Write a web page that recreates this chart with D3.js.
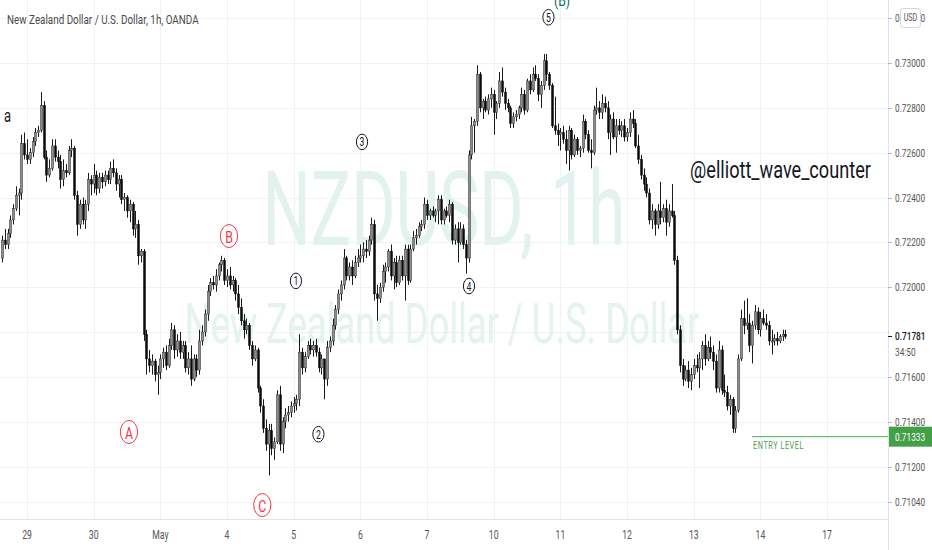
<!DOCTYPE html>
<html><head><meta charset="utf-8">
<script src="https://cdn.jsdelivr.net/npm/d3@7"></script>
<style>html,body{margin:0;padding:0;background:#fff;}svg{display:block;}</style>
</head><body>
<svg id="c" width="932" height="550"></svg>
<script>
// ---------- DATA (hourly candles, NZDUSD, OANDA) ----------
const opens = [
0.7213,0.7221,0.7219,0.7224,0.7230,0.7235,0.7241,0.7242,0.7264,0.7259,
0.7257,0.7260,0.7265,0.7269,0.7270,0.7281,0.7258,0.7250,0.7253,0.7263,
0.7258,0.7256,0.7248,0.7252,0.7251,0.7261,0.7262,0.7241,0.7228,0.7237,
0.7230,0.7237,0.7248,0.7246,0.7250,0.7244,0.7249,0.7247,0.7250,0.7248,
0.7253,0.7251,0.7246,0.7248,0.7239,0.7240,0.7234,0.7237,0.7226,0.7228,
0.7214,0.7216,0.7179,0.7168,0.7165,0.7167,0.7161,0.7162,0.7168,0.7171,
0.7165,0.7174,0.7181,0.7172,0.7176,0.7171,0.7174,0.7164,0.7168,0.7159,
0.7168,0.7163,0.7176,0.7180,0.7188,0.7198,0.7202,0.7201,0.7205,0.7210,
0.7212,0.7203,0.7205,0.7201,0.7203,0.7197,0.7191,0.7185,0.7181,0.7183,
0.7174,0.7168,0.7172,0.7155,0.7147,0.7137,0.7130,0.7136,0.7128,0.7131,
0.7152,0.7130,0.7140,0.7143,0.7144,0.7147,0.7148,0.7150,0.7171,0.7164,
0.7169,0.7174,0.7172,0.7174,0.7171,0.7164,0.7168,0.7159,0.7173,0.7176,
0.7183,0.7190,0.7197,0.7201,0.7213,0.7205,0.7209,0.7205,0.7211,0.7213,
0.7214,0.7217,0.7216,0.7221,0.7228,0.7197,0.7195,0.7200,0.7207,0.7209,
0.7216,0.7205,0.7211,0.7202,0.7212,0.7205,0.7217,0.7203,0.7217,0.7222,
0.7223,0.7227,0.7228,0.7237,0.7232,0.7234,0.7232,0.7234,0.7239,0.7230,
0.7234,0.7232,0.7237,0.7221,0.7226,0.7220,0.7226,0.7219,0.7213,0.7259,
0.7272,0.7274,0.7295,0.7280,0.7283,0.7279,0.7284,0.7286,0.7278,0.7282,
0.7292,0.7287,0.7282,0.7280,0.7273,0.7276,0.7277,0.7280,0.7286,0.7279,
0.7292,0.7288,0.7295,0.7293,0.7286,0.7290,0.7301,0.7295,0.7290,0.7272,
0.7270,0.7268,0.7269,0.7266,0.7261,0.7270,0.7259,0.7266,0.7261,0.7262,
0.7274,0.7268,0.7261,0.7260,0.7279,0.7280,0.7278,0.7282,0.7280,0.7269,
0.7275,0.7267,0.7272,0.7270,0.7272,0.7267,0.7269,0.7275,0.7273,0.7263,
0.7257,0.7250,0.7246,0.7242,0.7230,0.7234,0.7228,0.7234,0.7231,0.7235,
0.7229,0.7234,0.7232,0.7212,0.7181,0.7165,0.7159,0.7163,0.7158,0.7161,
0.7165,0.7164,0.7168,0.7174,0.7168,0.7173,0.7171,0.7167,0.7155,0.7172,
0.7154,0.7153,0.7147,0.7150,0.7137,0.7145,0.7168,0.7186,0.7183,0.7184,
0.7174,0.7183,0.7189,0.7181,0.7186,0.7184,0.7183,0.7176,0.7176,0.7177,
0.7176,0.7178,0.7179];
const highs = [
0.7223,0.7226,0.7226,0.7232,0.7237,0.7245,0.7244,0.7268,0.7269,0.7266,
0.7262,0.7267,0.7271,0.7272,0.7287,0.7283,0.7261,0.7257,0.7266,0.7266,
0.7261,0.7259,0.7257,0.7255,0.7263,0.7266,0.7263,0.7243,0.7239,0.7240,
0.7239,0.7251,0.7250,0.7255,0.7252,0.7251,0.7251,0.7252,0.7252,0.7256,
0.7257,0.7253,0.7250,0.7250,0.7242,0.7241,0.7239,0.7238,0.7234,0.7230,
0.7217,0.7217,0.7181,0.7172,0.7170,0.7168,0.7165,0.7170,0.7173,0.7174,
0.7177,0.7184,0.7183,0.7179,0.7180,0.7176,0.7176,0.7171,0.7174,0.7170,
0.7170,0.7181,0.7183,0.7190,0.7201,0.7204,0.7205,0.7208,0.7211,0.7214,
0.7213,0.7208,0.7209,0.7205,0.7204,0.7201,0.7195,0.7188,0.7186,0.7184,
0.7176,0.7174,0.7173,0.7156,0.7150,0.7141,0.7139,0.7139,0.7133,0.7154,
0.7156,0.7142,0.7146,0.7147,0.7149,0.7151,0.7152,0.7179,0.7173,0.7171,
0.7176,0.7177,0.7176,0.7177,0.7173,0.7170,0.7168,0.7176,0.7178,0.7186,
0.7192,0.7199,0.7203,0.7217,0.7214,0.7211,0.7212,0.7214,0.7217,0.7219,
0.7220,0.7221,0.7223,0.7231,0.7230,0.7201,0.7202,0.7210,0.7211,0.7217,
0.7219,0.7213,0.7214,0.7214,0.7214,0.7219,0.7219,0.7219,0.7225,0.7226,
0.7229,0.7230,0.7240,0.7239,0.7235,0.7236,0.7235,0.7241,0.7241,0.7235,
0.7236,0.7239,0.7238,0.7228,0.7229,0.7229,0.7228,0.7221,0.7261,0.7276,
0.7275,0.7299,0.7296,0.7284,0.7285,0.7286,0.7289,0.7288,0.7283,0.7296,
0.7298,0.7289,0.7284,0.7281,0.7278,0.7279,0.7281,0.7289,0.7288,0.7293,
0.7295,0.7298,0.7299,0.7295,0.7292,0.7304,0.7304,0.7296,0.7291,0.7285,
0.7273,0.7271,0.7272,0.7270,0.7272,0.7271,0.7268,0.7267,0.7263,0.7277,
0.7275,0.7270,0.7266,0.7281,0.7289,0.7283,0.7286,0.7285,0.7283,0.7277,
0.7278,0.7275,0.7275,0.7274,0.7275,0.7271,0.7278,0.7279,0.7275,0.7268,
0.7259,0.7253,0.7249,0.7244,0.7237,0.7235,0.7237,0.7247,0.7237,0.7239,
0.7237,0.7246,0.7234,0.7214,0.7183,0.7168,0.7165,0.7167,0.7164,0.7168,
0.7170,0.7171,0.7176,0.7179,0.7176,0.7178,0.7174,0.7170,0.7176,0.7174,
0.7161,0.7156,0.7152,0.7151,0.7147,0.7170,0.7190,0.7194,0.7195,0.7188,
0.7185,0.7192,0.7191,0.7189,0.7190,0.7188,0.7185,0.7181,0.7179,0.7180,
0.7179,0.7181,0.7181];
const lows = [
0.7211,0.7217,0.7217,0.7222,0.7228,0.7234,0.7232,0.7239,0.7257,0.7255,
0.7255,0.7258,0.7263,0.7267,0.7269,0.7257,0.7247,0.7249,0.7252,0.7256,
0.7253,0.7244,0.7245,0.7249,0.7250,0.7258,0.7239,0.7223,0.7226,0.7228,
0.7226,0.7234,0.7241,0.7242,0.7241,0.7242,0.7244,0.7245,0.7246,0.7246,
0.7249,0.7243,0.7240,0.7237,0.7234,0.7231,0.7229,0.7223,0.7222,0.7210,
0.7211,0.7176,0.7161,0.7162,0.7161,0.7158,0.7152,0.7159,0.7164,0.7163,
0.7164,0.7172,0.7168,0.7169,0.7168,0.7168,0.7162,0.7161,0.7156,0.7158,
0.7160,0.7161,0.7174,0.7178,0.7185,0.7196,0.7199,0.7198,0.7203,0.7207,
0.7201,0.7200,0.7199,0.7198,0.7194,0.7188,0.7183,0.7177,0.7179,0.7172,
0.7165,0.7167,0.7153,0.7144,0.7135,0.7127,0.7116,0.7125,0.7123,0.7130,
0.7127,0.7126,0.7137,0.7140,0.7142,0.7144,0.7145,0.7147,0.7161,0.7162,
0.7168,0.7170,0.7169,0.7169,0.7162,0.7161,0.7150,0.7156,0.7171,0.7174,
0.7181,0.7188,0.7194,0.7199,0.7203,0.7203,0.7201,0.7204,0.7209,0.7211,
0.7211,0.7213,0.7214,0.7219,0.7194,0.7185,0.7193,0.7198,0.7202,0.7207,
0.7203,0.7199,0.7200,0.7201,0.7203,0.7194,0.7201,0.7202,0.7216,0.7219,
0.7222,0.7225,0.7226,0.7230,0.7230,0.7231,0.7229,0.7228,0.7228,0.7228,
0.7231,0.7229,0.7219,0.7219,0.7211,0.7219,0.7217,0.7206,0.7211,0.7257,
0.7260,0.7272,0.7278,0.7275,0.7278,0.7277,0.7280,0.7268,0.7275,0.7280,
0.7285,0.7279,0.7278,0.7271,0.7271,0.7274,0.7275,0.7278,0.7277,0.7278,
0.7286,0.7287,0.7292,0.7283,0.7280,0.7288,0.7292,0.7288,0.7271,0.7268,
0.7263,0.7261,0.7264,0.7255,0.7252,0.7257,0.7258,0.7259,0.7258,0.7260,
0.7266,0.7260,0.7253,0.7259,0.7277,0.7275,0.7275,0.7278,0.7266,0.7259,
0.7266,0.7260,0.7268,0.7267,0.7265,0.7265,0.7267,0.7271,0.7262,0.7255,
0.7248,0.7243,0.7240,0.7228,0.7226,0.7223,0.7226,0.7228,0.7229,0.7223,
0.7227,0.7231,0.7210,0.7179,0.7162,0.7156,0.7158,0.7155,0.7154,0.7159,
0.7162,0.7155,0.7163,0.7165,0.7167,0.7168,0.7163,0.7153,0.7153,0.7152,
0.7151,0.7145,0.7143,0.7135,0.7135,0.7144,0.7167,0.7179,0.7181,0.7171,
0.7166,0.7181,0.7179,0.7178,0.7183,0.7181,0.7174,0.7170,0.7174,0.7174,
0.7175,0.7176,0.7177];
const closes = [
0.7221,0.7219,0.7224,0.7230,0.7235,0.7241,0.7242,0.7264,0.7259,0.7257,
0.7260,0.7265,0.7269,0.7270,0.7281,0.7258,0.7250,0.7253,0.7263,0.7258,
0.7256,0.7248,0.7252,0.7251,0.7261,0.7262,0.7241,0.7228,0.7237,0.7230,
0.7237,0.7248,0.7246,0.7250,0.7244,0.7249,0.7247,0.7250,0.7248,0.7253,
0.7251,0.7246,0.7248,0.7239,0.7240,0.7234,0.7237,0.7226,0.7228,0.7214,
0.7216,0.7179,0.7168,0.7165,0.7167,0.7161,0.7162,0.7168,0.7171,0.7165,
0.7174,0.7181,0.7172,0.7176,0.7171,0.7174,0.7164,0.7168,0.7159,0.7168,
0.7163,0.7176,0.7180,0.7188,0.7198,0.7202,0.7201,0.7205,0.7210,0.7212,
0.7203,0.7205,0.7201,0.7203,0.7197,0.7191,0.7185,0.7181,0.7183,0.7174,
0.7168,0.7172,0.7155,0.7147,0.7137,0.7130,0.7136,0.7128,0.7131,0.7152,
0.7130,0.7140,0.7143,0.7144,0.7147,0.7148,0.7150,0.7171,0.7164,0.7169,
0.7174,0.7172,0.7174,0.7171,0.7164,0.7168,0.7159,0.7173,0.7176,0.7183,
0.7190,0.7197,0.7201,0.7213,0.7205,0.7209,0.7205,0.7211,0.7213,0.7214,
0.7217,0.7216,0.7221,0.7228,0.7197,0.7195,0.7200,0.7207,0.7209,0.7216,
0.7205,0.7211,0.7202,0.7212,0.7205,0.7217,0.7203,0.7217,0.7222,0.7223,
0.7227,0.7228,0.7237,0.7232,0.7234,0.7232,0.7234,0.7239,0.7230,0.7234,
0.7232,0.7237,0.7221,0.7226,0.7220,0.7226,0.7219,0.7213,0.7259,0.7272,
0.7274,0.7295,0.7280,0.7283,0.7279,0.7284,0.7286,0.7278,0.7282,0.7292,
0.7287,0.7282,0.7280,0.7273,0.7276,0.7277,0.7280,0.7286,0.7279,0.7292,
0.7288,0.7295,0.7293,0.7286,0.7290,0.7301,0.7295,0.7290,0.7272,0.7270,
0.7268,0.7269,0.7266,0.7261,0.7270,0.7259,0.7266,0.7261,0.7262,0.7274,
0.7268,0.7261,0.7260,0.7279,0.7280,0.7278,0.7282,0.7280,0.7269,0.7275,
0.7267,0.7272,0.7270,0.7272,0.7267,0.7269,0.7275,0.7273,0.7263,0.7257,
0.7250,0.7246,0.7242,0.7230,0.7234,0.7228,0.7234,0.7231,0.7235,0.7229,
0.7234,0.7232,0.7212,0.7181,0.7165,0.7159,0.7163,0.7158,0.7161,0.7165,
0.7164,0.7168,0.7174,0.7168,0.7173,0.7171,0.7167,0.7155,0.7172,0.7154,
0.7153,0.7147,0.7150,0.7137,0.7145,0.7168,0.7186,0.7183,0.7184,0.7174,
0.7183,0.7189,0.7181,0.7186,0.7184,0.7183,0.7176,0.7176,0.7177,0.7176,
0.7178,0.7179,0.71781];

const dayLabels = ["29","30","May","4","5","6","7","10","11","12","13","14","17"];
const dayStartIdx = [9,33,57,81,105,129,153,177,201,225,249,273,297];
const priceTicks = [0.7320,0.7300,0.7280,0.7260,0.7240,0.7220,0.7200,0.7180,0.7160,0.7140,0.7120,0.7104];

const waveText  = ["A","B","C","1","2","3","4","5"];
const waveKind  = ["abc","abc","abc","num","num","num","num","num"];
const waveIdx   = [45.7,81.7,93.7,105.8,113.9,129.6,168.1,196.7];
const wavePrice = [0.71354,0.72228,0.71028,0.72028,0.71344,0.72648,0.72005,0.73204];
const degreeText = "(B)", degreeIdx = 201.6, degreePrice = 0.73280;

const lastPrice = 0.71781, countdown = "34:50";
const entryPrice = 0.71333, entryStartIdx = 270, entryText = "ENTRY LEVEL";
const titleText = "New Zealand Dollar / U.S. Dollar, 1h, OANDA";
const symbolWm = "NZDUSD, 1h", nameWm = "New Zealand Dollar / U.S. Dollar";
const authorText = "@elliott_wave_counter";
const candles = opens.map((o,i)=>({i, o, h:highs[i], l:lows[i], c:closes[i]}));

// ---------- LAYOUT ----------
const svg = d3.select('#c');
const plotR = 888, plotB = 519;
const x = d3.scaleLinear().domain([0,297]).range([2,827.07]);
const y = d3.scaleLinear().domain([0.712,0.730]).range([466.5,63]);
const FONT = "Roboto, 'Noto Sans', sans-serif";
const SQ = 0.72;

function label(g, str, px, py, o={}) {
  const t = g.append('text').text(str)
    .attr('font-family', FONT)
    .attr('font-size', o.size||12)
    .attr('font-weight', o.weight||400)
    .attr('fill', o.fill||'#131722')
    .attr('text-anchor', o.anchor||'start')
    .attr('dominant-baseline', o.baseline||'auto');
  if (o.spacing) t.attr('letter-spacing', o.spacing);
  let sx = o.sx || SQ;
  if (o.width) { const w = t.node().getComputedTextLength(); if (w>0) sx = o.width / w; }
  t.attr('transform', `translate(${px},${py}) scale(${sx},1)`);
  return t;
}

svg.append('rect').attr('width',932).attr('height',550).attr('fill','#fff');

// grid
const grid = svg.append('g');
grid.selectAll('line.h').data(priceTicks).join('line')
  .attr('x1',0).attr('x2',plotR).attr('y1',d=>Math.round(y(d))+0.5).attr('y2',d=>Math.round(y(d))+0.5)
  .attr('stroke','#f0f2f5').attr('stroke-width',1);
grid.selectAll('line.v').data(dayStartIdx).join('line')
  .attr('y1',0).attr('y2',plotB).attr('x1',d=>Math.round(x(d))+0.5).attr('x2',d=>Math.round(x(d))+0.5)
  .attr('stroke','#f0f2f5').attr('stroke-width',1);

// watermarks
const wm = svg.append('g');
label(wm, symbolWm, 444, 245, {size:103, fill:'#e2f2ef', anchor:'middle', width:363});
label(wm, nameWm, 442, 343, {size:56, fill:'#e4f3f0', anchor:'middle', width:515});

// candles
const cg = svg.append('g');
cg.selectAll('line.wick').data(candles).join('line')
  .attr('x1',d=>Math.round(x(d.i))+0.5).attr('x2',d=>Math.round(x(d.i))+0.5)
  .attr('y1',d=>y(d.h)).attr('y2',d=>y(d.l))
  .attr('stroke','#1b1b1b').attr('stroke-width',1);
cg.selectAll('rect.body').data(candles).join('rect')
  .attr('x',d=>Math.round(x(d.i))-0.5).attr('width',2)
  .attr('y',d=>y(Math.max(d.o,d.c)))
  .attr('height',d=>Math.max(1, Math.abs(y(d.o)-y(d.c))))
  .attr('fill',d=>d.c>=d.o ? '#8c8c8c' : '#0a0a0a')
  .attr('stroke',d=>d.c>=d.o ? '#2a2a2a' : '#0a0a0a').attr('stroke-width',0.5);

// entry level
const eg = svg.append('g');
eg.append('line').attr('x1',x(entryStartIdx)).attr('x2',plotR)
  .attr('y1',y(entryPrice)).attr('y2',y(entryPrice))
  .attr('stroke','#4caf50').attr('stroke-width',1);
label(eg, entryText, x(entryStartIdx)+1, y(entryPrice)+12.5, {size:11, fill:'#4c9e50', width:51, spacing:0.8});

// wave labels
const wg = svg.append('g');
waveText.forEach((t,k)=>{
  const cx = x(waveIdx[k]), cy = y(wavePrice[k]);
  if (waveKind[k]==='abc') {
    wg.append('ellipse').attr('cx',cx).attr('cy',cy).attr('rx',8.6).attr('ry',11.5)
      .attr('fill','#fff').attr('stroke','#f23645').attr('stroke-width',1);
    label(wg, t, cx, cy+1, {size:17, fill:'#f23645', anchor:'middle', baseline:'central'});
  } else {
    wg.append('ellipse').attr('cx',cx).attr('cy',cy).attr('rx',5.6).attr('ry',7.8)
      .attr('fill','#fff').attr('stroke','#131722').attr('stroke-width',1);
    label(wg, t, cx, cy+0.5, {size:12, fill:'#131722', anchor:'middle', baseline:'central'});
  }
});
label(wg, degreeText, x(degreeIdx), y(degreePrice), {size:17, fill:'#0e6b68', anchor:'middle', baseline:'central'});

// texts
label(svg, authorText, 690, 178, {size:24, fill:'#131722', width:181});
label(svg, "a", 4, 122, {size:18, fill:'#131722'});
label(svg, titleText, 7, 24, {size:13, fill:'#4a4a4a', width:192});

// axes
const ax = svg.append('g');
ax.append('line').attr('x1',plotR+0.5).attr('x2',plotR+0.5).attr('y1',0).attr('y2',550).attr('stroke','#e0e3eb');
ax.append('line').attr('x1',0).attr('x2',plotR).attr('y1',plotB+0.5).attr('y2',plotB+0.5).attr('stroke','#e0e3eb');
priceTicks.forEach(p=>{
  const py = y(p);
  ax.append('line').attr('x1',plotR).attr('x2',plotR+4).attr('y1',Math.round(py)+0.5).attr('y2',Math.round(py)+0.5).attr('stroke','#b2b5be');
  label(ax, d3.format('.5f')(p), 895, py, {size:11.5, fill:'#555', baseline:'central'});
});
dayLabels.forEach((t,k)=>{
  label(ax, t, x(dayStartIdx[k]), 535, {size:12, fill:'#555', anchor:'middle', baseline:'central'});
});

// USD badge
ax.append('rect').attr('x',900.5).attr('y',8.5).attr('width',20).attr('height',19).attr('rx',3)
  .attr('fill','#fff').attr('stroke','#d1d4dc');
label(ax, "USD", 910.5, 18, {size:10, fill:'#555', anchor:'middle', baseline:'central'});

// last price label
const ly = y(lastPrice);
ax.append('rect').attr('x',889).attr('y',ly-9).attr('width',43).attr('height',33).attr('fill','#fff');
ax.append('line').attr('x1',plotR).attr('x2',plotR+4).attr('y1',Math.round(ly)+0.5).attr('y2',Math.round(ly)+0.5).attr('stroke','#131722');
label(ax, d3.format('.5f')(lastPrice), 895, ly, {size:11.5, fill:'#131722', baseline:'central', weight:500});
label(ax, countdown, 895, ly+16, {size:11.5, fill:'#555', baseline:'central'});

// entry badge
const ey = y(entryPrice);
ax.append('rect').attr('x',889).attr('y',ey-10).attr('width',43).attr('height',20).attr('fill','#43a047');
label(ax, d3.format('.5f')(entryPrice), 895, ey, {size:11.5, fill:'#fff', baseline:'central'});
</script>
</body></html>
